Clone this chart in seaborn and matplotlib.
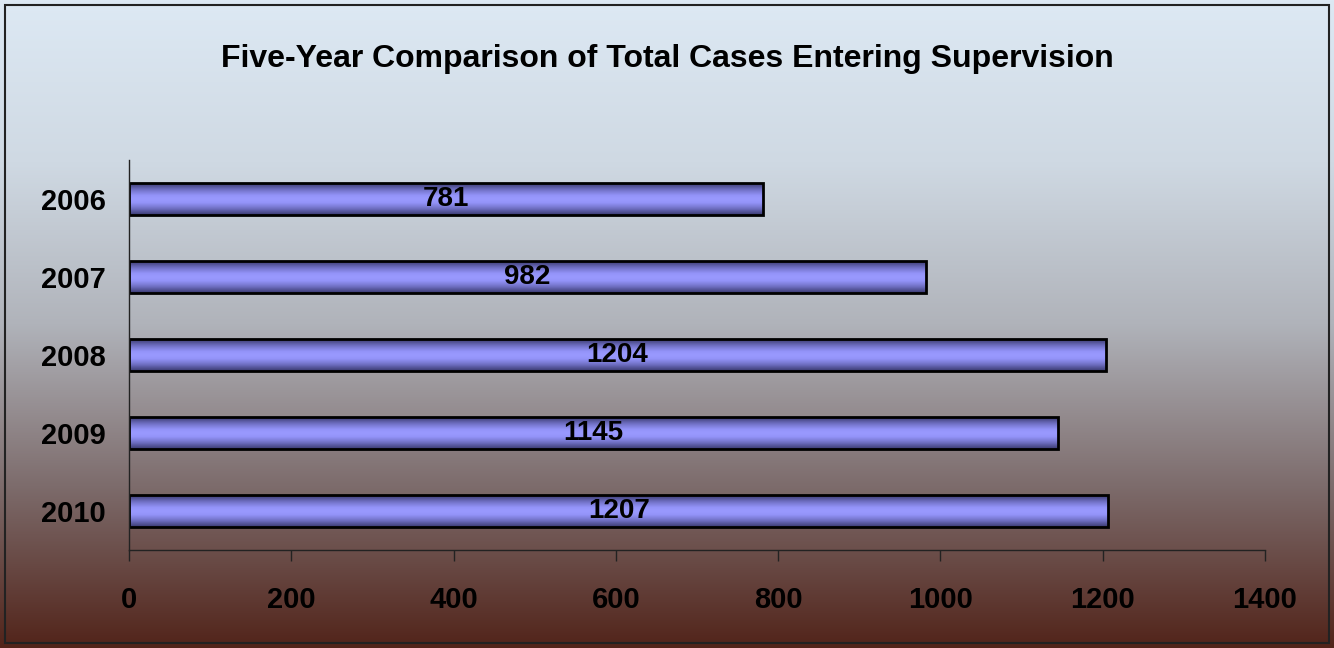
"""Five-year comparison of total cases entering supervision (horizontal bars)."""

import matplotlib

matplotlib.use("Agg")
import matplotlib.pyplot as plt  # noqa: E402
import numpy as np  # noqa: E402
import seaborn as sns  # noqa: E402
from matplotlib.colors import LinearSegmentedColormap  # noqa: E402
from matplotlib.patches import Rectangle  # noqa: E402

YEARS = ["2006", "2007", "2008", "2009", "2010"]
CASES = [781, 982, 1204, 1145, 1207]
X_TICKS = [0, 200, 400, 600, 800, 1000, 1200, 1400]
TITLE = "Five-Year Comparison of Total Cases Entering Supervision"

# Background fades from pale blue at the top to dark brown at the bottom.
BG_CMAP = LinearSegmentedColormap.from_list(
    "bg",
    [
        (0.0, "#dde9f4"),
        (0.25, "#cfd9e3"),
        (0.5, "#b0b3ba"),
        (0.75, "#7d6c6c"),
        (1.0, "#52241a"),
    ],
)
# Bars: dark periwinkle edges, light center (cylinder look).
BAR_CMAP = LinearSegmentedColormap.from_list(
    "bar",
    [(0.0, "#3a3a70"), (0.2, "#7070c4"), (0.38, "#9393f8"), (0.5, "#9a9aff"),
     (0.62, "#9393f8"), (0.8, "#7070c4"), (1.0, "#3a3a70")],
)

sns.set_theme(style="white")
plt.rcParams["font.family"] = ["Liberation Sans", "DejaVu Sans"]
plt.rcParams["text.color"] = "black"
plt.rcParams["xtick.color"] = "black"
plt.rcParams["ytick.color"] = "black"

W, H = 1334, 648
fig = plt.figure(figsize=(W / 100, H / 100), dpi=100)

bg = fig.add_axes([0, 0, 1, 1], zorder=0)
bg.imshow(np.linspace(0, 1, 256).reshape(-1, 1), aspect="auto", cmap=BG_CMAP,
          extent=[0, 1, 0, 1], origin="upper")
bg.set_xlim(0, 1)
bg.set_ylim(0, 1)
bg.axis("off")
bg.add_patch(Rectangle((5 / W, 5 / H), 1 - 10 / W, 1 - 10 / H, fill=False,
                       edgecolor="#222222", linewidth=1.5))

ax = fig.add_axes([129 / W, 1 - 550 / H, (1265 - 129) / W, (550 - 160) / H], zorder=1)
ax.patch.set_alpha(0)

sns.barplot(x=CASES, y=YEARS, orient="h", color="#9999ff", edgecolor="black",
            linewidth=2, width=0.41, ax=ax)

# gradient fill clipped to each bar
grad = np.linspace(0, 1, 64).reshape(-1, 1)
for patch in ax.patches:
    x0, y0 = patch.get_x(), patch.get_y()
    w, h = patch.get_width(), patch.get_height()
    img = ax.imshow(grad, aspect="auto", cmap=BAR_CMAP, extent=[x0, x0 + w, y0 + h, y0],
                    origin="upper", zorder=patch.get_zorder())
    img.set_clip_path(patch)
    patch.set_facecolor("none")
    patch.set_zorder(patch.get_zorder() + 0.5)

ax.bar_label(ax.containers[0], labels=[str(v) for v in CASES], label_type="center",
             fontsize=20, fontweight="bold", color="black", zorder=5)

ax.set_xlim(0, 1400)
ax.set_ylim(4.5, -0.5)
ax.set_xticks(X_TICKS)
ax.set_xticklabels([str(t) for t in X_TICKS], fontsize=21, fontweight="bold")
ax.set_yticklabels(YEARS, fontsize=21, fontweight="bold")
ax.set_xlabel("")
ax.set_ylabel("")
ax.tick_params(axis="x", direction="out", length=8, width=1, color="#222222", pad=18, bottom=True)
ax.tick_params(axis="y", length=0, pad=17)
for side in ("top", "right"):
    ax.spines[side].set_visible(False)
for side in ("left", "bottom"):
    ax.spines[side].set_color("#222222")
    ax.spines[side].set_linewidth(1)
ax.grid(False)

fig.text(0.5, 1 - 59 / H, TITLE, ha="center", va="center", fontsize=23,
         fontweight="bold", color="black")

fig.savefig("out.png", dpi=100)
